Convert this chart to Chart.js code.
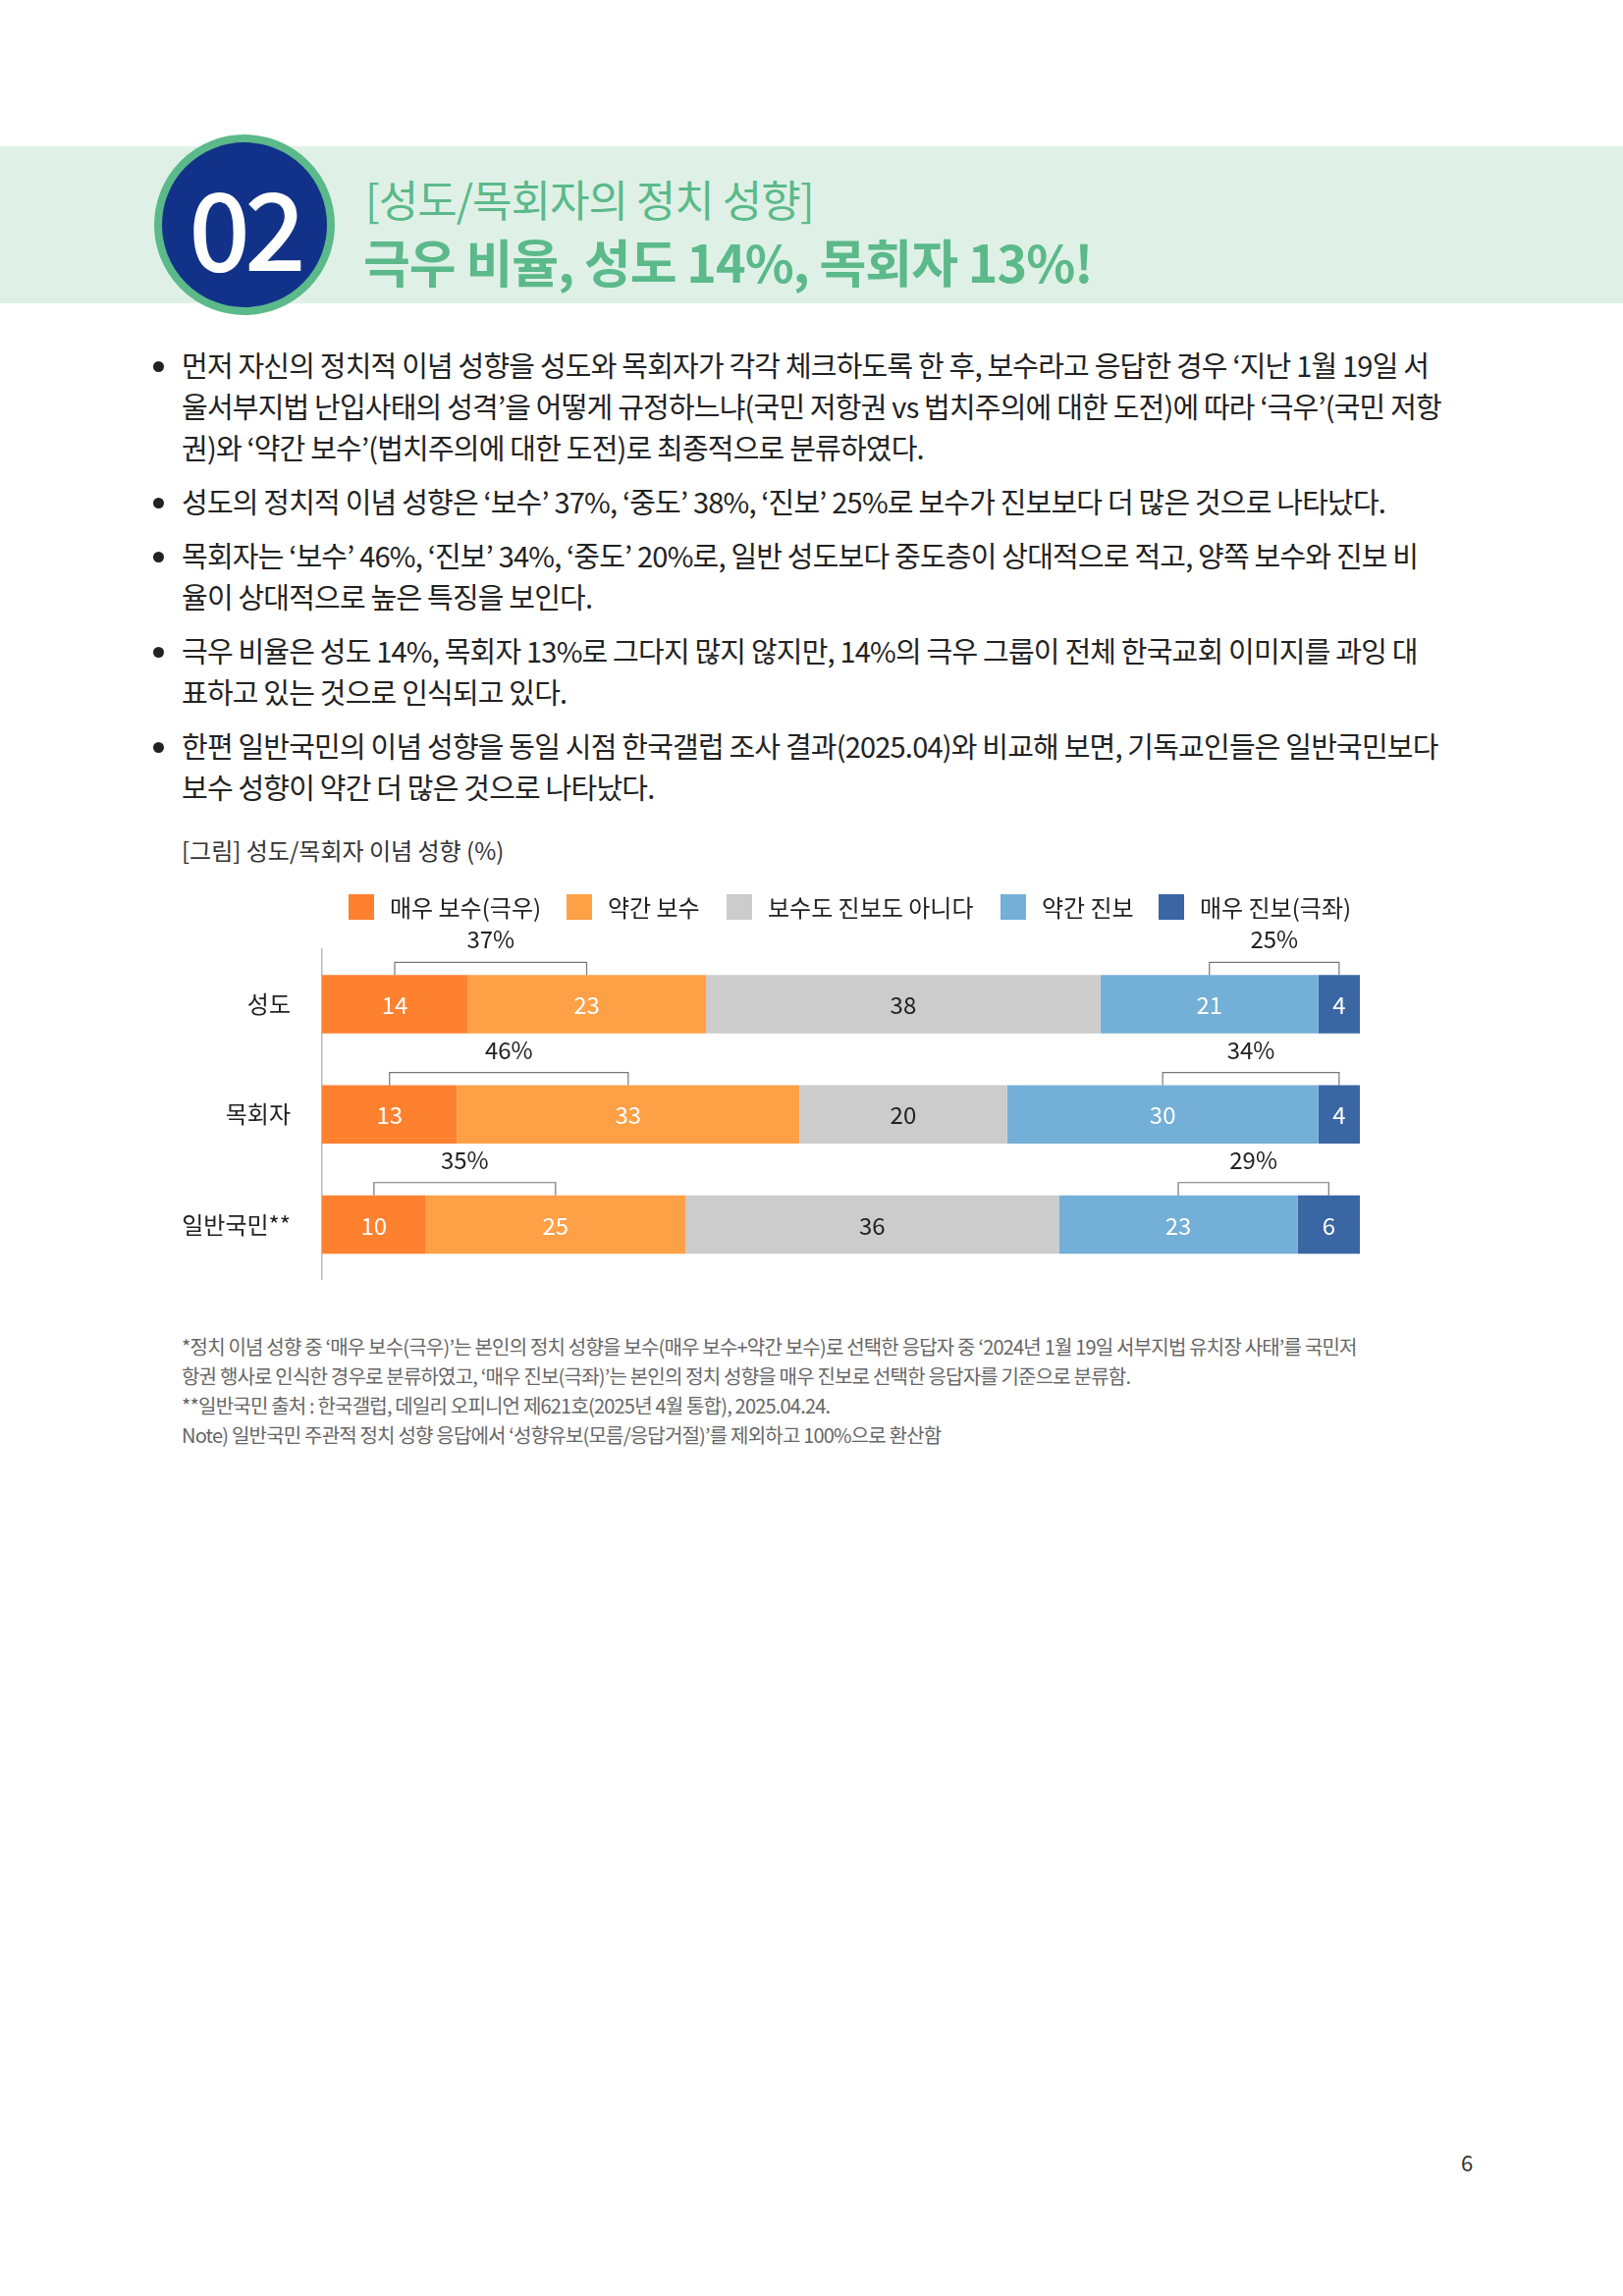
<!DOCTYPE html>
<html>
<head>
<meta charset="utf-8">
<script src="https://cdn.jsdelivr.net/npm/chart.js@4.4.0/dist/chart.umd.min.js"></script>
<style>
  body { margin:0; width:1653px; height:2339px; background:#fff; position:relative; font-family:"Noto Sans CJK KR","Noto Sans",sans-serif; color:#222; overflow:hidden; }
  .band { position:absolute; left:0; top:149px; width:1653px; height:160px; background:#dff1e6; }
  .circle { position:absolute; left:157px; top:137px; width:168px; height:168px; border-radius:50%; background:#12328a; border:8px solid #5bb98a; color:#fff; font-size:110px; font-weight:500; text-align:center; line-height:166px; letter-spacing:-6px; }
  .t1 { position:absolute; left:372px; top:170px; font-size:44px; color:#5bb98a; letter-spacing:-1px; }
  .t2 { position:absolute; left:370px; top:228px; font-size:52px; font-weight:700; color:#5bb98a; letter-spacing:-1px; }
  ul { position:absolute; left:150px; top:350px; width:1360px; margin:0; padding:0 0 0 35px; font-size:29px; line-height:42px; letter-spacing:-0.8px; color:#222; }
  li { margin-bottom:13px; }
  .cap { position:absolute; left:185px; top:848px; font-size:24px; color:#333; }
  .legend { position:absolute; top:906px; left:0; font-size:24px; color:#222; z-index:2; }
  .legend span.sq { position:absolute; width:26px; height:26px; top:5px; }
  .legend span.tx { position:absolute; top:0; white-space:nowrap; }
  #wrap { position:absolute; left:160px; top:920px; width:1240px; height:430px; }
  .foot { position:absolute; left:185px; top:1357px; font-size:20px; line-height:30px; color:#666; letter-spacing:-0.8px; }
  .pn { position:absolute; left:1488px; top:2186px; font-size:22px; color:#333; }
</style>
</head>
<body>
<div class="band"></div>
<div class="circle">02</div>
<div class="t1">[성도/목회자의 정치 성향]</div>
<div class="t2">극우 비율, 성도 14%, 목회자 13%!</div>
<ul>
  <li>먼저 자신의 정치적 이념 성향을 성도와 목회자가 각각 체크하도록 한 후, 보수라고 응답한 경우 ‘지난 1월 19일 서<br>울서부지법 난입사태의 성격’을 어떻게 규정하느냐(국민 저항권 vs 법치주의에 대한 도전)에 따라 ‘극우’(국민 저항<br>권)와 ‘약간 보수’(법치주의에 대한 도전)로 최종적으로 분류하였다.</li>
  <li>성도의 정치적 이념 성향은 ‘보수’ 37%, ‘중도’ 38%, ‘진보’ 25%로 보수가 진보보다 더 많은 것으로 나타났다.</li>
  <li>목회자는 ‘보수’ 46%, ‘진보’ 34%, ‘중도’ 20%로, 일반 성도보다 중도층이 상대적으로 적고, 양쪽 보수와 진보 비<br>율이 상대적으로 높은 특징을 보인다.</li>
  <li>극우 비율은 성도 14%, 목회자 13%로 그다지 많지 않지만, 14%의 극우 그룹이 전체 한국교회 이미지를 과잉 대<br>표하고 있는 것으로 인식되고 있다.</li>
  <li>한편 일반국민의 이념 성향을 동일 시점 한국갤럽 조사 결과(2025.04)와 비교해 보면, 기독교인들은 일반국민보다<br>보수 성향이 약간 더 많은 것으로 나타났다.</li>
</ul>
<div class="cap">[그림] 성도/목회자 이념 성향 (%)</div>
<div class="legend" id="legend"></div>
<div id="wrap"><canvas id="myChart"></canvas></div>
<div class="foot">*정치 이념 성향 중 ‘매우 보수(극우)’는 본인의 정치 성향을 보수(매우 보수+약간 보수)로 선택한 응답자 중 ‘2024년 1월 19일 서부지법 유치장 사태’를 국민저<br>항권 행사로 인식한 경우로 분류하였고, ‘매우 진보(극좌)’는 본인의 정치 성향을 매우 진보로 선택한 응답자를 기준으로 분류함.<br>**일반국민 출처 : 한국갤럽, 데일리 오피니언 제621호(2025년 4월 통합), 2025.04.24.<br>Note) 일반국민 주관적 정치 성향 응답에서 ‘성향유보(모름/응답거절)’를 제외하고 100%으로 환산함</div>
<div class="pn">6</div>
<script>
const categories = ["성도", "목회자", "일반국민**"];
const seriesNames = ["매우 보수(극우)", "약간 보수", "보수도 진보도 아니다", "약간 진보", "매우 진보(극좌)"];
const veryCons = [14, 13, 10];
const slightCons = [23, 33, 25];
const neutral = [38, 20, 36];
const slightProg = [21, 30, 23];
const veryProg = [4, 4, 6];
const consTotals = ["37%", "46%", "35%"];
const progTotals = ["25%", "34%", "29%"];
const colors = ["#fe8130", "#fea046", "#cccccc", "#73afd6", "#3a66a3"];
const labelColors = ["#fff", "#fff", "#222", "#fff", "#fff"];

// legend as html, positioned like the reference
const legendX = [355, 577, 740, 1019, 1180];
const legend = document.getElementById("legend");
seriesNames.forEach((n, i) => {
  legend.innerHTML += '<span class="sq" style="left:' + legendX[i] + 'px;background:' + colors[i] + '"></span>' +
    '<span class="tx" style="left:' + (legendX[i] + 42) + 'px">' + n + '</span>';
});

const allSeries = [veryCons, slightCons, neutral, slightProg, veryProg];

// values inside bars + brackets with group totals
const labelPlugin = {
  id: "labels",
  afterDatasetsDraw(chart) {
    const ctx = chart.ctx;
    ctx.save();
    ctx.font = '24px "Noto Sans CJK KR"';
    ctx.textAlign = "center";
    ctx.textBaseline = "middle";
    allSeries.forEach((s, di) => {
      chart.getDatasetMeta(di).data.forEach((bar, i) => {
        ctx.fillStyle = labelColors[di];
        ctx.fillText(s[i], (bar.x + bar.base) / 2, bar.y + 1);
      });
    });
    const mid = (di, i) => { const b = chart.getDatasetMeta(di).data[i]; return (b.x + b.base) / 2; };
    categories.forEach((c, i) => {
      const b = chart.getDatasetMeta(0).data[i];
      const top = b.y - b.height / 2;
      const pairs = [[0, 1, consTotals[i]], [3, 4, progTotals[i]]];
      pairs.forEach(p => {
        const x1 = mid(p[0], i), x2 = mid(p[1], i);
        ctx.strokeStyle = "#777";
        ctx.lineWidth = 1.2;
        ctx.beginPath();
        ctx.moveTo(x1, top);
        ctx.lineTo(x1, top - 13);
        ctx.lineTo(x2, top - 13);
        ctx.lineTo(x2, top);
        ctx.stroke();
        ctx.fillStyle = "#222";
        ctx.fillText(p[2], (x1 + x2) / 2, top - 36);
      });
    });
    ctx.restore();
  }
};

const data = {
  labels: categories,
  datasets: allSeries.map((s, i) => ({
    label: seriesNames[i],
    data: s,
    backgroundColor: colors[i],
    borderWidth: 0,
    barPercentage: 0.53,
    categoryPercentage: 1
  }))
};

const config = {
  type: "bar",
  data,
  options: {
    indexAxis: "y",
    responsive: true,
    maintainAspectRatio: false,
    animation: false,
    layout: { padding: { top: 47, bottom: 11, right: 15, left: 0 } },
    plugins: { legend: { display: false }, tooltip: { enabled: false } },
    scales: {
      x: { stacked: true, min: 0, max: 100, display: false },
      y: {
        stacked: true,
        afterFit(scale) { scale.width = 168; },
        grid: { display: false, drawTicks: false },
        border: { display: true, color: "#bbb", width: 1.5 },
        ticks: { color: "#222", padding: 32, font: { size: 24, family: "Noto Sans CJK KR" } }
      }
    }
  },
  plugins: [labelPlugin]
};

const myChart = new Chart(document.getElementById("myChart"), config);
</script>
</body>
</html>
